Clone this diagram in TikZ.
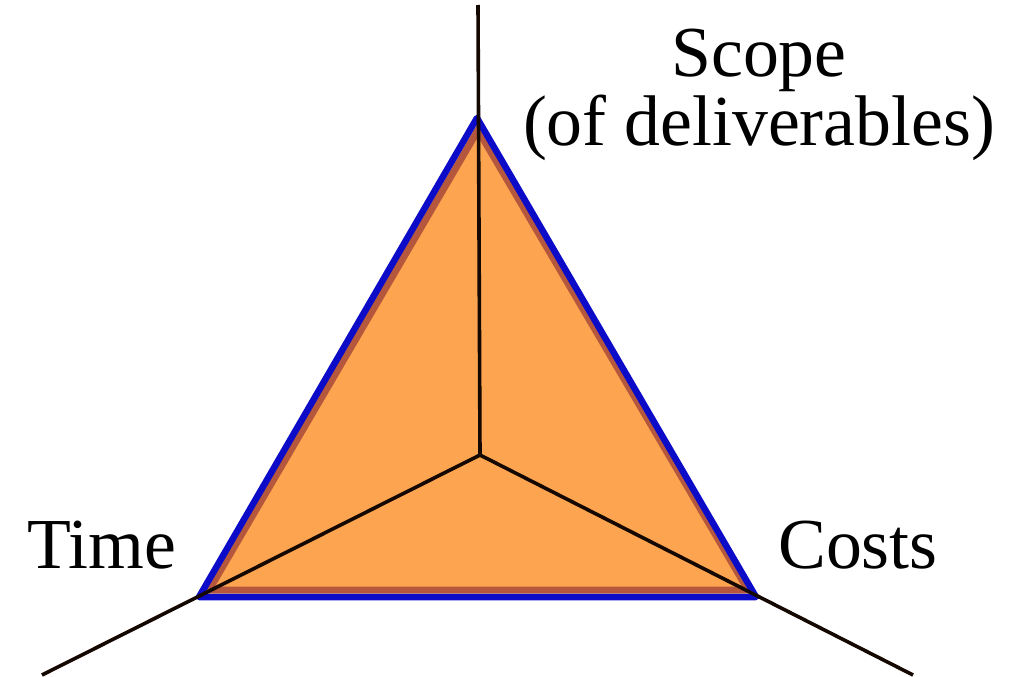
\documentclass[tikz,border=0pt]{standalone}
\usepackage{fontspec}
\setmainfont{Liberation Serif}
\definecolor{fillor}{HTML}{FCA44F}
\definecolor{brownedge}{HTML}{B4573C}
\definecolor{blueedge}{HTML}{0B0BC8}
\definecolor{axisblack}{HTML}{140800}
\begin{document}
\begin{tikzpicture}[x=1bp,y=-1bp,
  axis/.style={draw=axisblack,line width=3.6bp},
  inner/.style={draw=brownedge,fill=fillor,line width=7bp,line join=miter},
  outer/.style={draw=blueedge,line width=6.5bp,line join=round},
  lab/.style={font=\fontsize{72}{76}\selectfont,inner sep=0pt,anchor=base west}]
\useasboundingbox (0,0) rectangle (1021,677);
% brown/orange triangle
\coordinate (bt) at (478,130);
\coordinate (bl) at (209,590);
\coordinate (br) at (748,590);
\path[inner] (bt) -- (bl) -- (br) -- cycle;
% blue triangle
\coordinate (ut) at (477,118);
\coordinate (ul) at (199,597);
\coordinate (ur) at (756,597);
\draw[outer] (ut) -- (ul) -- (ur) -- cycle;
% axes
\coordinate (c) at (480,455);
\coordinate (atop) at (478,5);
\coordinate (aleft) at (42,675);
\coordinate (aright) at (913,675);
\draw[axis] (c) -- (atop);
\draw[axis] (c) -- (aleft);
\draw[axis] (c) -- (aright);
% labels
\node[lab,anchor=base] (scope) at (759,77) {Scope};
\node[lab,anchor=base] (deliv) at (759,146) {(of deliverables)};
\node[lab] (time) at (27,568) {Time};
\node[lab] (costs) at (778,568) {Costs};
\end{tikzpicture}
\end{document}
